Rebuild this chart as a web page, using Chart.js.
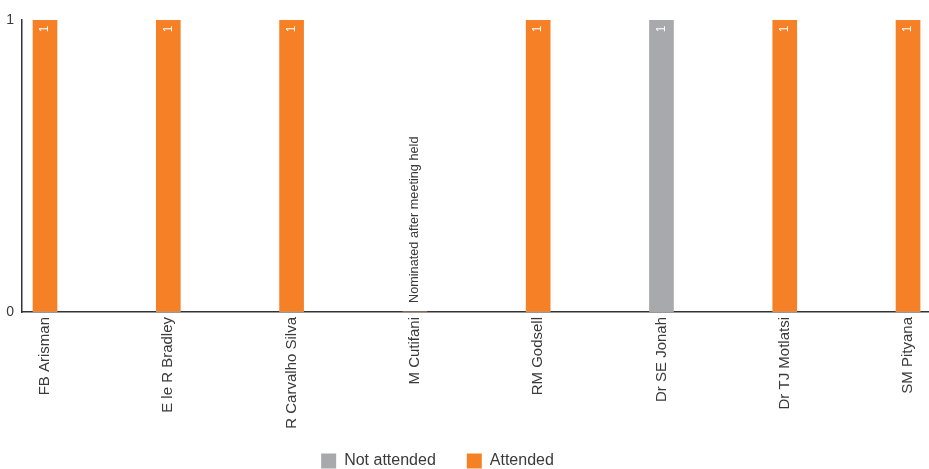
<!DOCTYPE html>
<html>
<head>
<meta charset="utf-8">
<script src="https://cdn.jsdelivr.net/npm/chart.js@4/dist/chart.umd.min.js"></script>
<style>
  html, body { margin: 0; padding: 0; background: #fff; }
  #wrap { width: 929px; height: 469px; position: relative; }
</style>
</head>
<body>
<div id="wrap"><canvas id="c"></canvas></div>
<script>
const categories = ["FB Arisman", "E le R Bradley", "R Carvalho Silva", "M Cutifani", "RM Godsell", "Dr SE Jonah", "Dr TJ Motlatsi", "SM Pityana"];
const notAttended = [0, 0, 0, 0, 0, 1, 0, 0];
const attended = [1, 1, 1, 0, 1, 0, 1, 1];
const yTicks = [0, 1];
const noteText = "Nominated after meeting held";
const noteIndex = 3;

const GRAY = "#a7a9ac";
const ORANGE = "#f58025";
const TEXT = "#3a3a3a";
const FONT = "'Liberation Sans', Arial, sans-serif";

const toXY = arr => arr.map((v, i) => ({ x: i, y: v }));

const tweaks = {
  id: "tweaks",
  afterLayout(chart) {
    if (chart.legend) { chart.legend.left -= 27; chart.legend.right -= 27; }
  },
  beforeDraw(chart) {
    Object.values(chart.scales).forEach(s => { s._computeLabelArea = () => undefined; });
  }
};

const valueLabels = {
  id: "valueLabels",
  afterDatasetsDraw(chart) {
    const ctx = chart.ctx;
    ctx.save();
    chart.data.datasets.forEach((ds, di) => {
      const meta = chart.getDatasetMeta(di);
      meta.data.forEach((bar, i) => {
        const v = ds.data[i].y;
        if (!v) return;
        ctx.save();
        ctx.translate(bar.x, bar.y + 9);
        ctx.rotate(-Math.PI / 2);
        ctx.fillStyle = "#ffffff";
        ctx.font = "12px " + FONT;
        ctx.textAlign = "center";
        ctx.textBaseline = "middle";
        ctx.fillText(String(v), 0, 0);
        ctx.restore();
      });
    });
    const xs = chart.scales.x, ys = chart.scales.y;
    ctx.translate(xs.getPixelForValue(noteIndex), ys.getPixelForValue(0) - 9);
    ctx.rotate(-Math.PI / 2);
    ctx.fillStyle = TEXT;
    ctx.font = "12.7px " + FONT;
    ctx.textAlign = "left";
    ctx.textBaseline = "middle";
    ctx.fillText(noteText, 0, 0);
    ctx.restore();
  }
};

new Chart(document.getElementById("c"), {
  type: "bar",
  data: {
    datasets: [
      { label: "Not attended", data: toXY(notAttended), backgroundColor: GRAY, barThickness: 24 },
      { label: "Attended", data: toXY(attended), backgroundColor: ORANGE, barThickness: 24 }
    ]
  },
  options: {
    responsive: true,
    maintainAspectRatio: false,
    animation: false,
    layout: { padding: { top: 20, right: 0, bottom: 0, left: 0 } },
    plugins: {
      legend: {
        position: "bottom",
        maxHeight: 47,
        labels: {
          boxWidth: 15, boxHeight: 15, padding: 31,
          color: TEXT, font: { family: FONT, size: 16 }
        }
      },
      tooltip: { enabled: false }
    },
    scales: {
      x: {
        type: "linear",
        stacked: true,
        offset: false,
        min: -0.1866,
        max: 7.170,
        grid: { display: false, drawTicks: false },
        border: { display: true, color: "#333", width: 1.5 },
        afterBuildTicks: s => { s.ticks = categories.map((_, i) => ({ value: i })); },
        ticks: {
          autoSkip: false,
          minRotation: 90, maxRotation: 90,
          padding: 5,
          color: TEXT,
          font: { family: FONT, size: 15 },
          callback: v => categories[v]
        },
        afterFit: s => { s.height = 110; s.paddingLeft = 0; s.paddingRight = 0; }
      },
      y: {
        stacked: true,
        min: 0, max: 1,
        grid: { display: false, drawTicks: false },
        border: { display: true, color: "#333", width: 1.5 },
        afterBuildTicks: s => { s.ticks = yTicks.map(v => ({ value: v })); },
        ticks: { color: TEXT, font: { family: FONT, size: 14 }, padding: 8 },
        afterFit: s => { s.width = 22; }
      }
    }
  },
  plugins: [tweaks, valueLabels]
});
</script>
</body>
</html>
